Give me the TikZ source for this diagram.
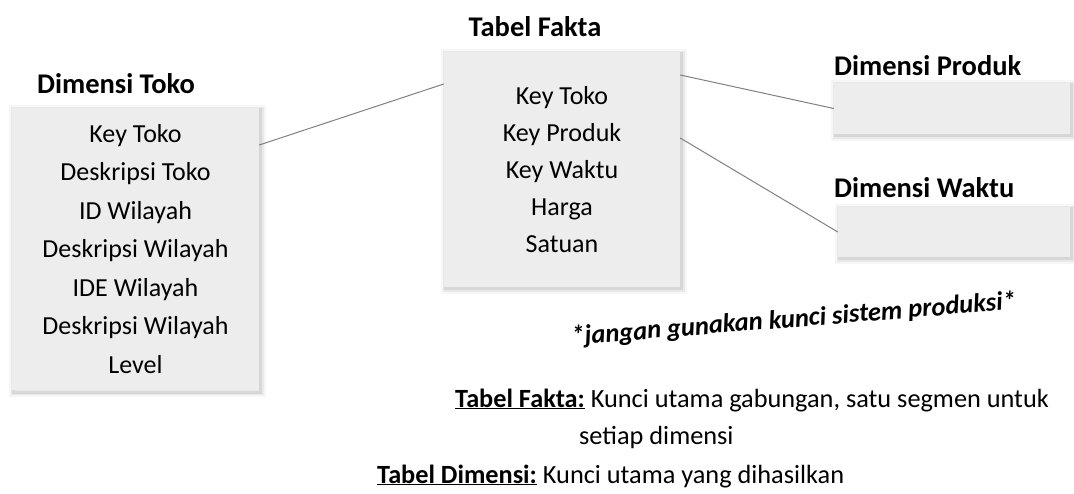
\documentclass[tikz,border=0pt]{standalone}
\usepackage{fontspec}
\setmainfont{Carlito}
\usetikzlibrary{calc}
\definecolor{boxfill}{HTML}{EDEDED}
\definecolor{linegray}{HTML}{808080}
\tikzset{
  softshadow/.style={
    preaction={draw=black, draw opacity=0.035, line width=10pt, transform canvas={xshift=1.5pt,yshift=-2pt}},
    preaction={draw=black, draw opacity=0.05, line width=6pt, transform canvas={xshift=1.5pt,yshift=-2pt}},
    preaction={draw=black, draw opacity=0.08, line width=3pt, transform canvas={xshift=1.5pt,yshift=-2pt}}},
  tablebox/.style={rectangle, fill=boxfill, inner sep=0pt, softshadow, align=center},
  titletext/.style={font=\fontsize{28.5}{33}\selectfont\bfseries, inner sep=0pt},
  legendtext/.style={font=\fontsize{26.3}{32}\selectfont, inner sep=0pt, anchor=base west},
  connector/.style={draw=linegray, line width=1pt},
}
\begin{document}
\begin{tikzpicture}[x=1pt,y=-1pt]
\useasboundingbox (0,0) rectangle (1074,494);
% boxes
\node[tablebox, minimum width=247pt, minimum height=282pt, font=\fontsize{26}{38.5}\selectfont] (toko) at (135.5,249)
  {Key Toko\\Deskripsi Toko\\ID Wilayah\\Deskripsi Wilayah\\IDE Wilayah\\Deskripsi Wilayah\\Level};
\node[tablebox, minimum width=236pt, minimum height=235pt, font=\fontsize{26}{37}\selectfont] (fakta) at (562,169.5)
  {Key Toko\\Key Produk\\Key Waktu\\Harga\\Satuan};
\node[tablebox, minimum width=236pt, minimum height=51pt] (produk) at (952,108.5) {};
\node[tablebox, minimum width=232pt, minimum height=50pt] (waktu) at (954,232) {};
% titles
\node[titletext] (ttoko) at (116,84) {Dimensi Toko};
\node[titletext] (tfakta) at (535,27) {Tabel Fakta};
\node[titletext, anchor=west] (tproduk) at (834,66) {Dimensi Produk};
\node[titletext, anchor=west] (twaktu) at (834,188) {Dimensi Waktu};
% connectors
\coordinate (c1) at ([yshift=104pt]toko.east);
\coordinate (c2) at ([yshift=85.5pt]fakta.west);
\coordinate (c3) at ([yshift=94.5pt]fakta.east);
\coordinate (c4) at ([yshift=31.5pt]fakta.east);
\draw[connector] (c1) -- (c2);
\draw[connector] (c3) -- (produk.west);
\draw[connector] (c4) -- (waktu.west);
% note
\node[font=\fontsize{26.5}{30}\selectfont\bfseries\itshape, rotate=4.6, inner sep=0pt, anchor=base west] (note) at (572,345) {*jangan gunakan kunci sistem produksi*};
% legend
\node[legendtext] (leg1) at (455,407)
  {\textbf{\underline{Tabel Fakta:}} Kunci utama gabungan, satu segmen untuk};
\node[legendtext] (leg2) at (579,444) {setiap dimensi};
\node[legendtext] (leg3) at (377,483)
  {\textbf{\underline{Tabel Dimensi:}} Kunci utama yang dihasilkan};
\end{tikzpicture}
\end{document}
